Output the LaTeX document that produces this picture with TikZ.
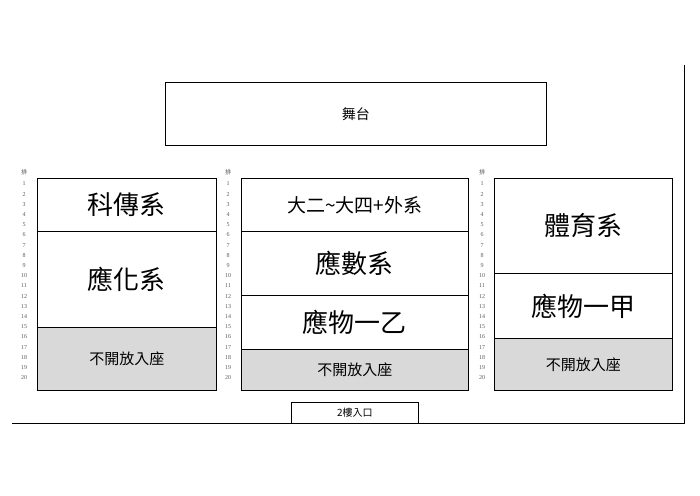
\documentclass[tikz,border=0pt]{standalone}
\usepackage{fontspec}
\setmainfont{Liberation Serif}
\newfontfamily\cjk{Noto Sans CJK TC}
\usetikzlibrary{positioning}
\tikzset{
  block/.style={draw,thick,anchor=north west,inner sep=0pt},
  closed/.style={block,fill=gray!30},
  rownum/.style={font=\fontsize{6}{6}\selectfont,inner sep=0pt,text=gray!70!black}
}
\begin{document}
\begin{tikzpicture}[x=1pt,y=-1pt]
\useasboundingbox (0,0) rectangle (700,495);

%-------------------Stage--------------------%
\node[block,minimum width=381,minimum height=63,font=\cjk\fontsize{14}{14}\selectfont] (stage) at (165,82) {舞台};

%-------------------Walls and entrance--------------------%
\coordinate (wallT) at (684,65);
\coordinate (wallC) at (684,423);
\coordinate (wallL) at (12,423);
\draw[thick] (wallT) -- (wallC) -- (wallL);
\node[block,minimum width=127,minimum height=21,font=\cjk\fontsize{10}{10}\selectfont] (door) at (291,402) {2樓入口};

%-------------------Left block--------------------%
\node[block,minimum width=179,minimum height=53,font=\cjk\fontsize{26}{26}\selectfont] (kc) at (37,178) {科傳系};
\node[block,minimum width=179,minimum height=96,font=\cjk\fontsize{26}{26}\selectfont] (yh) at (37,231) {應化系};
\node[closed,minimum width=179,minimum height=63,font=\cjk\fontsize{15}{15}\selectfont] (offL) at (37,327) {不開放入座};

%-------------------Middle block--------------------%
\node[block,minimum width=227,minimum height=53,font=\cjk\fontsize{19}{19}\selectfont] (dae) at (241,178) {大二\textasciitilde 大四+外系};
\node[block,minimum width=227,minimum height=64,font=\cjk\fontsize{26}{26}\selectfont] (ys) at (241,231) {應數系};
\node[block,minimum width=227,minimum height=54,font=\cjk\fontsize{26}{26}\selectfont] (ywy) at (241,295) {應物一乙};
\node[closed,minimum width=227,minimum height=41,font=\cjk\fontsize{15}{15}\selectfont] (offM) at (241,349) {不開放入座};

%-------------------Right block--------------------%
\node[block,minimum width=178,minimum height=95,font=\cjk\fontsize{26}{26}\selectfont] (ty) at (494,178) {體育系};
\node[block,minimum width=178,minimum height=65,font=\cjk\fontsize{26}{26}\selectfont] (ywj) at (494,273) {應物一甲};
\node[closed,minimum width=178,minimum height=52,font=\cjk\fontsize{15}{15}\selectfont] (offR) at (494,338) {不開放入座};

%-------------------Row numbers--------------------%
\foreach \xx in {24,228,482}{
  \node[rownum,font=\cjk\fontsize{6}{6}\selectfont] at (\xx,172) {排};
  \foreach \r in {1,...,20}
    \node[rownum] at (\xx,{184+(\r-1)*10.2}) {\r};
}
\end{tikzpicture}
\end{document}
